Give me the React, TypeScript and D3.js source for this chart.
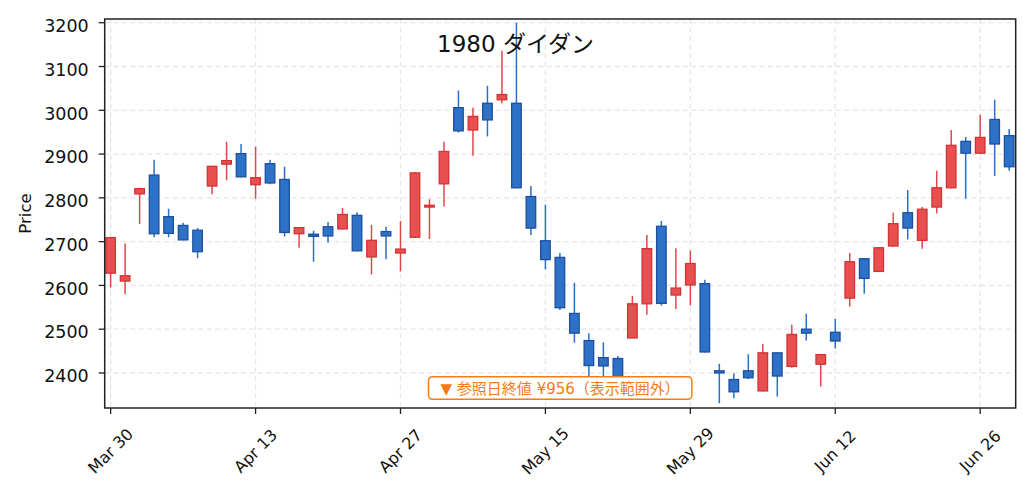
import React from "react";
import * as d3 from "d3";

const dates = [
  "2020-03-30","2020-03-31","2020-04-01","2020-04-02","2020-04-03","2020-04-06","2020-04-07","2020-04-08","2020-04-09","2020-04-10",
  "2020-04-13","2020-04-14","2020-04-15","2020-04-16","2020-04-17","2020-04-20","2020-04-21","2020-04-22","2020-04-23","2020-04-24",
  "2020-04-27","2020-04-28","2020-04-30","2020-05-01","2020-05-07","2020-05-08","2020-05-11","2020-05-12","2020-05-13","2020-05-14",
  "2020-05-15","2020-05-18","2020-05-19","2020-05-20","2020-05-21","2020-05-22","2020-05-25","2020-05-26","2020-05-27","2020-05-28",
  "2020-05-29","2020-06-01","2020-06-02","2020-06-03","2020-06-04","2020-06-05","2020-06-08","2020-06-09","2020-06-10","2020-06-11",
  "2020-06-12","2020-06-15","2020-06-16","2020-06-17","2020-06-18","2020-06-19","2020-06-22","2020-06-23","2020-06-24","2020-06-25",
  "2020-06-26","2020-06-29","2020-06-30",
];

const opens = [
  2628,2610,2809,2852,2757,2737,2726,2827,2877,2901,
  2830,2878,2842,2718,2717,2734,2729,2760,2665,2723,
  2674,2710,2779,2832,3006,2955,3016,3024,3016,2803,
  2702,2664,2536,2474,2435,2433,2480,2558,2735,2578,
  2601,2604,2405,2385,2405,2359,2446,2415,2500,2420,
  2493,2571,2661,2632,2690,2766,2703,2779,2823,2929,
  2902,2979,2942,
];
const highs = [
  2711,2696,2823,2887,2775,2743,2731,2873,2928,2923,
  2917,2887,2871,2733,2725,2745,2777,2767,2738,2734,
  2747,2859,2797,2928,3045,3006,3056,3136,3200,2827,
  2784,2674,2606,2491,2470,2439,2576,2715,2747,2685,
  2680,2613,2421,2399,2443,2466,2447,2510,2535,2443,
  2523,2674,2662,2687,2766,2818,2779,2862,2955,2939,
  2990,3024,2957,
];
const lows = [
  2595,2580,2740,2710,2710,2703,2662,2808,2840,2847,
  2798,2831,2712,2686,2654,2698,2728,2678,2625,2660,
  2632,2709,2706,2780,2949,2896,2940,3016,2822,2715,
  2637,2544,2469,2390,2388,2380,2479,2533,2554,2546,
  2554,2447,2331,2342,2386,2358,2346,2412,2474,2369,
  2456,2552,2581,2631,2689,2705,2684,2764,2822,2798,
  2901,2850,2862,
];
const closes = [
  2709,2622,2821,2718,2719,2704,2677,2872,2885,2848,
  2846,2834,2721,2732,2712,2713,2762,2679,2703,2713,
  2683,2857,2783,2906,2953,2986,2978,3036,2823,2731,
  2659,2549,2491,2417,2416,2385,2558,2684,2559,2594,
  2650,2448,2400,2357,2389,2446,2393,2488,2491,2442,
  2473,2654,2616,2686,2741,2731,2774,2823,2920,2902,
  2938,2923,2871,
];

const yTicks = [2400, 2500, 2600, 2700, 2800, 2900, 3000, 3100, 3200];
const xTickIndex = [0, 10, 20, 30, 40, 50, 60];

const title = "1980 ダイダン";
const yLabel = "Price";
const note = "▼ 参照日終値 ¥956（表示範囲外）";

const W = 1031;
const H = 497;
const L = 104.7, R = 1015.7, T = 19, B = 408;
const FONT = "'DejaVu Sans', 'Noto Sans CJK JP', sans-serif";

const UP_FILL = "#e84f4f", UP_EDGE = "#d03535", UP_WICK = "#e0474b";
const DN_FILL = "#2e72c8", DN_EDGE = "#1d4f9e", DN_WICK = "#2c6fc6";
const ORANGE = "#f57c14";

export default function App() {
  const x = d3.scaleLinear().domain([-0.41, 62.45]).range([L, R]);
  const y = d3.scaleLinear().domain([2320, 3208.5]).range([B, T]);
  const fmt = d3.timeFormat("%b %d");
  const parse = d3.timeParse("%Y-%m-%d");
  const step = x(1) - x(0);
  const bw = step * 0.66;

  return (
    <svg
      width={W}
      height={H}
      style={{ position: "fixed", left: 0, top: 0, background: "#fff" }}
      fontFamily={FONT}
    >
      <defs>
        <clipPath id="plot">
          <rect x={L} y={T} width={R - L} height={B - T} />
        </clipPath>
      </defs>
      <rect x={0} y={0} width={W} height={H} fill="#fff" />
      {/* grid */}
      <g stroke="#e6e6e6" strokeWidth={1.3} strokeDasharray="5,3.5">
        {yTicks.map((t) => (
          <line key={"gy" + t} x1={L} x2={R} y1={y(t)} y2={y(t)} />
        ))}
        {xTickIndex.map((i) => (
          <line key={"gx" + i} x1={x(i)} x2={x(i)} y1={T} y2={B} />
        ))}
      </g>
      {/* candles */}
      <g clipPath="url(#plot)">
        {dates.map((d, i) => {
          const up = closes[i] >= opens[i];
          const top = y(Math.max(opens[i], closes[i]));
          const bot = y(Math.min(opens[i], closes[i]));
          const cx = x(i);
          return (
            <g key={d}>
              <line
                x1={cx}
                x2={cx}
                y1={y(highs[i])}
                y2={y(lows[i])}
                stroke={up ? UP_WICK : DN_WICK}
                strokeWidth={1.5}
              />
              <rect
                x={cx - bw / 2}
                y={top}
                width={bw}
                height={Math.max(bot - top, 1.5)}
                fill={up ? UP_FILL : DN_FILL}
                stroke={up ? UP_EDGE : DN_EDGE}
                strokeWidth={1.3}
              />
            </g>
          );
        })}
      </g>
      {/* frame */}
      <rect x={L} y={T} width={R - L} height={B - T} fill="none" stroke="#222" strokeWidth={1.5} />
      {/* y ticks */}
      {yTicks.map((t) => (
        <g key={"yt" + t}>
          <line x1={L - 6} x2={L} y1={y(t)} y2={y(t)} stroke="#222" strokeWidth={1.3} />
          <text x={L - 16} y={y(t) + 9.3} textAnchor="end" fontSize={17.5} fill="#111">
            {t}
          </text>
        </g>
      ))}
      {/* x ticks */}
      {xTickIndex.map((i) => (
        <g key={"xt" + i}>
          <line x1={x(i)} x2={x(i)} y1={B} y2={B + 6} stroke="#222" strokeWidth={1.3} />
          <text
            transform={`translate(${x(i)},${451}) rotate(-45)`}
            textAnchor="middle"
            dominantBaseline="central"
            fontSize={16}
            fill="#111"
          >
            {fmt(parse(dates[i]) as Date)}
          </text>
        </g>
      ))}
      {/* y label */}
      <text
        transform={`translate(25,${(T + B) / 2}) rotate(-90)`}
        textAnchor="middle"
        dominantBaseline="central"
        fontSize={16.5}
        fill="#111"
      >
        {yLabel}
      </text>
      {/* title */}
      <text x={W / 2} y={52.3} textAnchor="middle" fontSize={23} fill="#111">
        {title}
      </text>
      {/* note */}
      <g>
        <rect
          x={(L + R) / 2 - 131.7}
          y={376.7}
          width={263.4}
          height={22.6}
          rx={4}
          fill="#fff"
          stroke={ORANGE}
          strokeWidth={1.5}
        />
        <text
          x={(L + R) / 2}
          y={388.5}
          textAnchor="middle"
          dominantBaseline="central"
          fontSize={15}
          fill={ORANGE}
        >
          {note}
        </text>
      </g>
    </svg>
  );
}
